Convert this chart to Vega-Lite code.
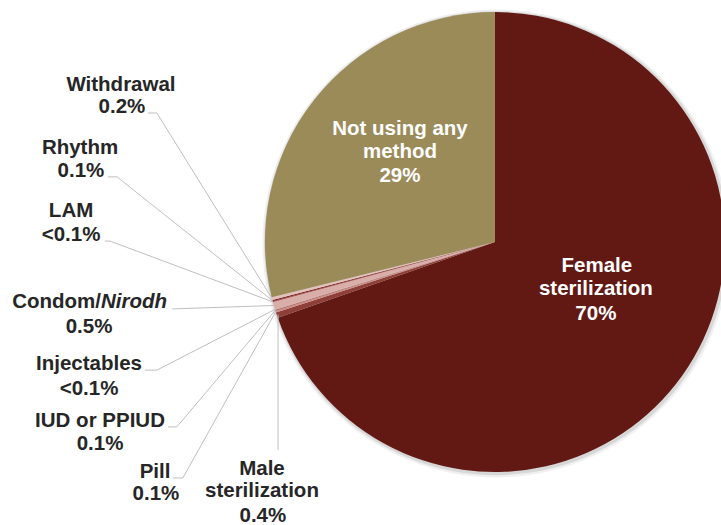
{
  "$schema": "https://vega.github.io/schema/vega-lite/v6.json",
  "width": 721,
  "height": 525,
  "padding": 0,
  "autosize": {"type": "none"},
  "background": "white",
  "config": {"view": {"stroke": null}},
  "datasets": {
    "slices": [
      {"method": "Female sterilization", "share": 70, "order": 1},
      {"method": "Male sterilization", "share": 0.4, "order": 2},
      {"method": "Pill", "share": 0.1, "order": 3},
      {"method": "IUD or PPIUD", "share": 0.1, "order": 4},
      {"method": "Injectables", "share": 0.05, "order": 5},
      {"method": "Condom/Nirodh", "share": 0.5, "order": 6},
      {"method": "LAM", "share": 0.05, "order": 7},
      {"method": "Rhythm", "share": 0.1, "order": 8},
      {"method": "Withdrawal", "share": 0.2, "order": 9},
      {"method": "Not using any method", "share": 29, "order": 10}
    ],
    "leaders": [
      {"id": "Withdrawal", "seq": 1, "x": -1.509, "y": 0.561},
      {"id": "Withdrawal", "seq": 2, "x": -1.470, "y": 0.561},
      {"id": "Withdrawal", "seq": 3, "x": -0.969, "y": -0.246},
      {"id": "Rhythm", "seq": 1, "x": -1.683, "y": 0.283},
      {"id": "Rhythm", "seq": 2, "x": -1.643, "y": 0.283},
      {"id": "Rhythm", "seq": 3, "x": -0.967, "y": -0.255},
      {"id": "LAM", "seq": 1, "x": -1.696, "y": 0.004},
      {"id": "LAM", "seq": 2, "x": -1.674, "y": 0.004},
      {"id": "LAM", "seq": 3, "x": -0.966, "y": -0.260},
      {"id": "Condom", "seq": 1, "x": -1.404, "y": -0.291},
      {"id": "Condom", "seq": 2, "x": -0.961, "y": -0.276},
      {"id": "Injectables", "seq": 1, "x": -1.522, "y": -0.557},
      {"id": "Injectables", "seq": 2, "x": -1.470, "y": -0.557},
      {"id": "Injectables", "seq": 3, "x": -0.956, "y": -0.293},
      {"id": "IUD", "seq": 1, "x": -1.422, "y": -0.804},
      {"id": "IUD", "seq": 2, "x": -1.383, "y": -0.804},
      {"id": "IUD", "seq": 3, "x": -0.955, "y": -0.297},
      {"id": "Pill", "seq": 1, "x": -1.400, "y": -1.026},
      {"id": "Pill", "seq": 2, "x": -1.357, "y": -1.026},
      {"id": "Pill", "seq": 3, "x": -0.953, "y": -0.303},
      {"id": "Male", "seq": 1, "x": -0.943, "y": -0.904},
      {"id": "Male", "seq": 2, "x": -0.943, "y": -0.315}
    ],
    "labels": [
      {"text": "Withdrawal", "x": -1.626, "y": 0.657, "kind": "outer"},
      {"text": "0.2%", "x": -1.622, "y": 0.561, "kind": "outer"},
      {"text": "Rhythm", "x": -1.804, "y": 0.383, "kind": "outer"},
      {"text": "0.1%", "x": -1.800, "y": 0.283, "kind": "outer"},
      {"text": "LAM", "x": -1.843, "y": 0.109, "kind": "outer"},
      {"text": "<0.1%", "x": -1.843, "y": 0.004, "kind": "outer"},
      {"text": "Condom/", "x": -1.713, "y": -0.287, "kind": "right"},
      {"text": "Nirodh", "x": -1.713, "y": -0.287, "kind": "italic"},
      {"text": "0.5%", "x": -1.765, "y": -0.396, "kind": "outer"},
      {"text": "Injectables", "x": -1.765, "y": -0.557, "kind": "outer"},
      {"text": "<0.1%", "x": -1.765, "y": -0.665, "kind": "outer"},
      {"text": "IUD or PPIUD", "x": -1.717, "y": -0.804, "kind": "outer"},
      {"text": "0.1%", "x": -1.717, "y": -0.904, "kind": "outer"},
      {"text": "Pill", "x": -1.478, "y": -1.026, "kind": "outer"},
      {"text": "0.1%", "x": -1.474, "y": -1.122, "kind": "outer"},
      {"text": "Male", "x": -1.013, "y": -1.013, "kind": "outer"},
      {"text": "sterilization", "x": -1.013, "y": -1.109, "kind": "outer"},
      {"text": "0.4%", "x": -1.009, "y": -1.217, "kind": "outer"},
      {"text": "Not using any", "x": -0.413, "y": 0.465, "kind": "inner"},
      {"text": "method", "x": -0.413, "y": 0.365, "kind": "inner"},
      {"text": "29%", "x": -0.413, "y": 0.261, "kind": "inner"},
      {"text": "Female", "x": 0.443, "y": -0.130, "kind": "inner"},
      {"text": "sterilization", "x": 0.439, "y": -0.230, "kind": "inner"},
      {"text": "70%", "x": 0.439, "y": -0.339, "kind": "inner"}
    ]
  },
  "layer": [
    {
      "data": {"values": [{"shade": "outer"}]},
      "mark": {"type": "arc", "outerRadius": 234, "color": "#000000", "opacity": 0.06},
      "encoding": {
        "x": {"datum": 0.006, "type": "quantitative", "scale": {"domain": [-2.152, 0.983], "nice": false, "zero": false}, "axis": null},
        "y": {"datum": -0.006, "type": "quantitative", "scale": {"domain": [-1.2304, 1.0522], "nice": false, "zero": false}, "axis": null}
      }
    },
    {
      "data": {"values": [{"shade": "inner"}]},
      "mark": {"type": "arc", "outerRadius": 232, "color": "#000000", "opacity": 0.1},
      "encoding": {
        "x": {"datum": 0.005, "type": "quantitative", "axis": null},
        "y": {"datum": -0.005, "type": "quantitative", "axis": null}
      }
    },
    {
      "data": {"name": "slices"},
      "mark": {"type": "arc", "outerRadius": 230},
      "encoding": {
        "theta": {"field": "share", "type": "quantitative", "stack": true},
        "order": {"field": "order", "type": "quantitative"},
        "color": {
          "field": "method",
          "type": "nominal",
          "legend": null,
          "scale": {
            "domain": ["Female sterilization", "Male sterilization", "Pill", "IUD or PPIUD", "Injectables", "Condom/Nirodh", "LAM", "Rhythm", "Withdrawal", "Not using any method"],
            "range": ["#621914", "#8E3F38", "#C98F89", "#B86F68", "#D8A9A4", "#D9AEA9", "#A33B36", "#7F2621", "#E3C1BD", "#9B8B59"]
          }
        },
        "x": {"datum": 0, "type": "quantitative", "axis": null},
        "y": {"datum": 0, "type": "quantitative", "axis": null}
      }
    },
    {
      "data": {"name": "leaders"},
      "mark": {"type": "line", "color": "#BFBFBF", "strokeWidth": 1},
      "encoding": {
        "x": {"field": "x", "type": "quantitative", "axis": null},
        "y": {"field": "y", "type": "quantitative", "axis": null},
        "detail": {"field": "id"},
        "order": {"field": "seq", "type": "quantitative"}
      }
    },
    {
      "data": {"name": "labels"},
      "transform": [{"filter": "datum.kind === 'outer'"}],
      "mark": {"type": "text", "font": "Liberation Sans", "fontWeight": "bold", "fontSize": 20.5, "color": "#262626", "align": "center", "baseline": "alphabetic"},
      "encoding": {
        "x": {"field": "x", "type": "quantitative", "axis": null},
        "y": {"field": "y", "type": "quantitative", "axis": null},
        "text": {"field": "text"}
      }
    },
    {
      "data": {"name": "labels"},
      "transform": [{"filter": "datum.kind === 'right'"}],
      "mark": {"type": "text", "font": "Liberation Sans", "fontWeight": "bold", "fontSize": 20.5, "color": "#262626", "align": "right", "baseline": "alphabetic"},
      "encoding": {
        "x": {"field": "x", "type": "quantitative", "axis": null},
        "y": {"field": "y", "type": "quantitative", "axis": null},
        "text": {"field": "text"}
      }
    },
    {
      "data": {"name": "labels"},
      "transform": [{"filter": "datum.kind === 'italic'"}],
      "mark": {"type": "text", "font": "Liberation Sans", "fontWeight": "bold", "fontStyle": "italic", "fontSize": 20.5, "color": "#262626", "align": "left", "baseline": "alphabetic"},
      "encoding": {
        "x": {"field": "x", "type": "quantitative", "axis": null},
        "y": {"field": "y", "type": "quantitative", "axis": null},
        "text": {"field": "text"}
      }
    },
    {
      "data": {"name": "labels"},
      "transform": [{"filter": "datum.kind === 'inner'"}],
      "mark": {"type": "text", "font": "Liberation Sans", "fontWeight": "bold", "fontSize": 20.5, "color": "#FFFFFF", "align": "center", "baseline": "alphabetic"},
      "encoding": {
        "x": {"field": "x", "type": "quantitative", "axis": null},
        "y": {"field": "y", "type": "quantitative", "axis": null},
        "text": {"field": "text"}
      }
    }
  ]
}
